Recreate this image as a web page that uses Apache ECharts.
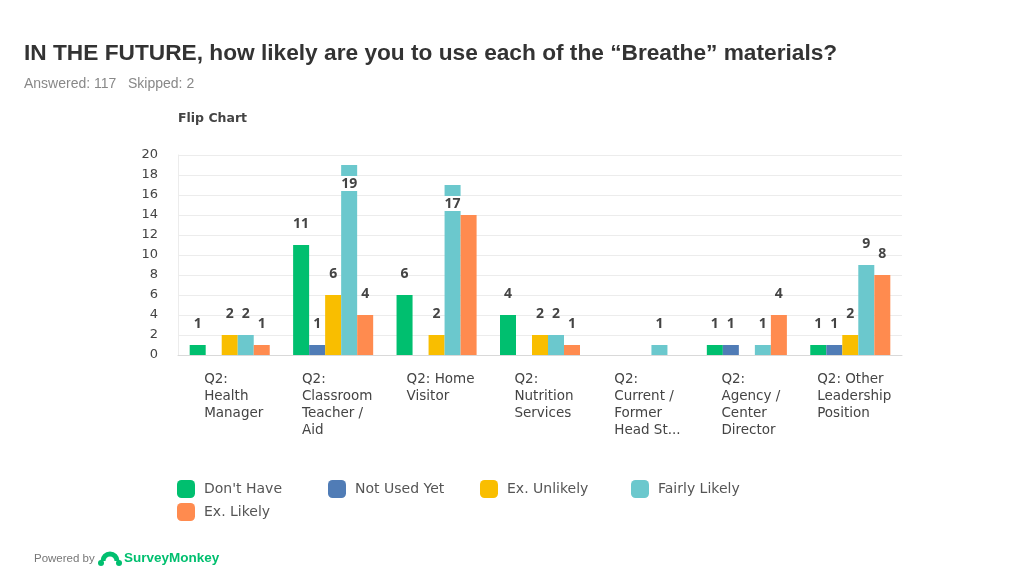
<!DOCTYPE html>
<html>
<head>
<meta charset="utf-8">
<script src="https://cdn.jsdelivr.net/npm/echarts@6/dist/echarts.min.js"></script>
<style>html,body{margin:0;padding:0;background:#fff}#c{width:1024px;height:576px}</style>
</head>
<body>
<div id="c"></div>
<script>
var categories = [
  'Q2:\nHealth\nManager',
  'Q2:\nClassroom\nTeacher /\nAid',
  'Q2: Home\nVisitor',
  'Q2:\nNutrition\nServices',
  'Q2:\nCurrent /\nFormer\nHead St...',
  'Q2:\nAgency /\nCenter\nDirector',
  'Q2: Other\nLeadership\nPosition'
];
var seriesNames = ["Don't Have", 'Not Used Yet', 'Ex. Unlikely', 'Fairly Likely', 'Ex. Likely'];
var dontHave     = [1, 11, 6, 4, 0, 1, 1];
var notUsedYet   = [0, 1, 0, 0, 0, 1, 1];
var exUnlikely   = [2, 6, 2, 2, 0, 0, 2];
var fairlyLikely = [2, 19, 17, 2, 1, 1, 9];
var exLikely     = [1, 4, 14, 1, 0, 4, 8];
var yTicks = [0, 2, 4, 6, 8, 10, 12, 14, 16, 18, 20];
// labels not shown in the reference: [seriesIndex, categoryIndex]
var hiddenLabels = [[4, 2]];

var colors = ['#00BF6F', '#507CB6', '#F9BE00', '#6BC8CD', '#FF8B4F'];
var allValues = [dontHave, notUsedYet, exUnlikely, fairlyLikely, exLikely];
var font = 'Noto Sans';
var wideFont = 'DejaVu Sans';

function isHidden(s, c) {
  for (var i = 0; i < hiddenLabels.length; i++) {
    if (hiddenLabels[i][0] === s && hiddenLabels[i][1] === c) return true;
  }
  return false;
}

var series = allValues.map(function (vals, si) {
  return {
    name: seriesNames[si],
    type: 'bar',
    barGap: '0%',
    barCategoryGap: '22.6%',
    itemStyle: { color: colors[si] },
    data: vals.map(function (v, ci) {
      var item = { value: v };
      if (v === 0 || isHidden(si, ci)) {
        item.label = { show: false };
      } else if (v >= 15) {
        item.label = {
          show: true, position: 'insideTop', distance: 11,
          backgroundColor: '#fff', padding: [1, 1, 0, 1], borderRadius: 1
        };
      }
      return item;
    }),
    label: {
      show: true, position: 'top', distance: 14,
      fontFamily: font, fontSize: 14, fontWeight: 'bold', color: '#444'
    }
  };
});

// legend layout: one legend per item, placed on a fixed grid like the reference
var legendPos = [[177, 480], [328, 480], [480, 480], [631, 480], [177, 503]];
var legends = seriesNames.map(function (n, i) {
  return {
    left: legendPos[i][0], top: legendPos[i][1], padding: 0,
    itemWidth: 18, itemHeight: 18, icon: 'roundRect',
    data: [n],
    textStyle: { fontFamily: wideFont, fontSize: 14, color: '#555', padding: [0, 0, 0, 4] }
  };
});

var chart = echarts.init(document.getElementById('c'));
chart.setOption({
  animation: false,
  backgroundColor: '#fff',
  title: [
    { text: 'IN THE FUTURE, how likely are you to use each of the \u201cBreathe\u201d materials?',
      left: 24, top: 42, padding: 0,
      textStyle: { fontFamily: 'Liberation Sans', fontSize: 22.7, fontWeight: 'bold', color: '#333' } },
    { text: 'Answered: 117   Skipped: 2', left: 24, top: 77, padding: 0,
      textStyle: { fontFamily: 'Liberation Sans', fontSize: 14, fontWeight: 'normal', color: '#888' } },
    { text: 'Flip Chart', left: 178, top: 112, padding: 0,
      textStyle: { fontFamily: wideFont, fontSize: 12.5, fontWeight: 'bold', color: '#444' } }
  ],
  grid: { left: 178, right: 122, top: 155, bottom: 221, containLabel: false },
  legend: legends,
  xAxis: {
    type: 'category',
    data: categories,
    axisTick: { show: false },
    axisLine: { lineStyle: { color: '#d9d9d9' } },
    axisLabel: {
      interval: 0, margin: 16, align: 'center', padding: [0, 0, 0, 8],
      fontFamily: wideFont, fontSize: 13.5, color: '#444', lineHeight: 17,
      formatter: function (v) {
        return v.split('\n').map(function (l) { return '{l|' + l + '}'; }).join('\n');
      },
      rich: { l: { align: 'left', fontFamily: wideFont, fontSize: 13.5, color: '#444', lineHeight: 17 } }
    }
  },
  yAxis: {
    type: 'value',
    min: yTicks[0], max: yTicks[yTicks.length - 1], interval: 2,
    axisLine: { show: true, lineStyle: { color: '#ececec' } },
    axisTick: { show: false },
    splitLine: { lineStyle: { color: '#ececec' } },
    axisLabel: { margin: 20, fontFamily: wideFont, fontSize: 13, color: '#444' }
  },
  graphic: [
    { type: 'text', left: 34, top: 553,
      style: { text: 'Powered by', font: '11.5px "Liberation Sans"', fill: '#777' } },
    { type: 'arc', shape: { cx: 110, cy: 561, r: 7, startAngle: Math.PI, endAngle: 2 * Math.PI },
      style: { stroke: '#00BF6F', lineWidth: 5, fill: 'none' } },
    { type: 'circle', shape: { cx: 101, cy: 563, r: 3 }, style: { fill: '#00BF6F' } },
    { type: 'circle', shape: { cx: 119, cy: 563, r: 3 }, style: { fill: '#00BF6F' } },
    { type: 'text', left: 124, top: 551,
      style: { text: 'SurveyMonkey', font: 'bold 13.5px "Liberation Sans"', fill: '#00BF6F' } }
  ],
  series: series
});
</script>
</body>
</html>
